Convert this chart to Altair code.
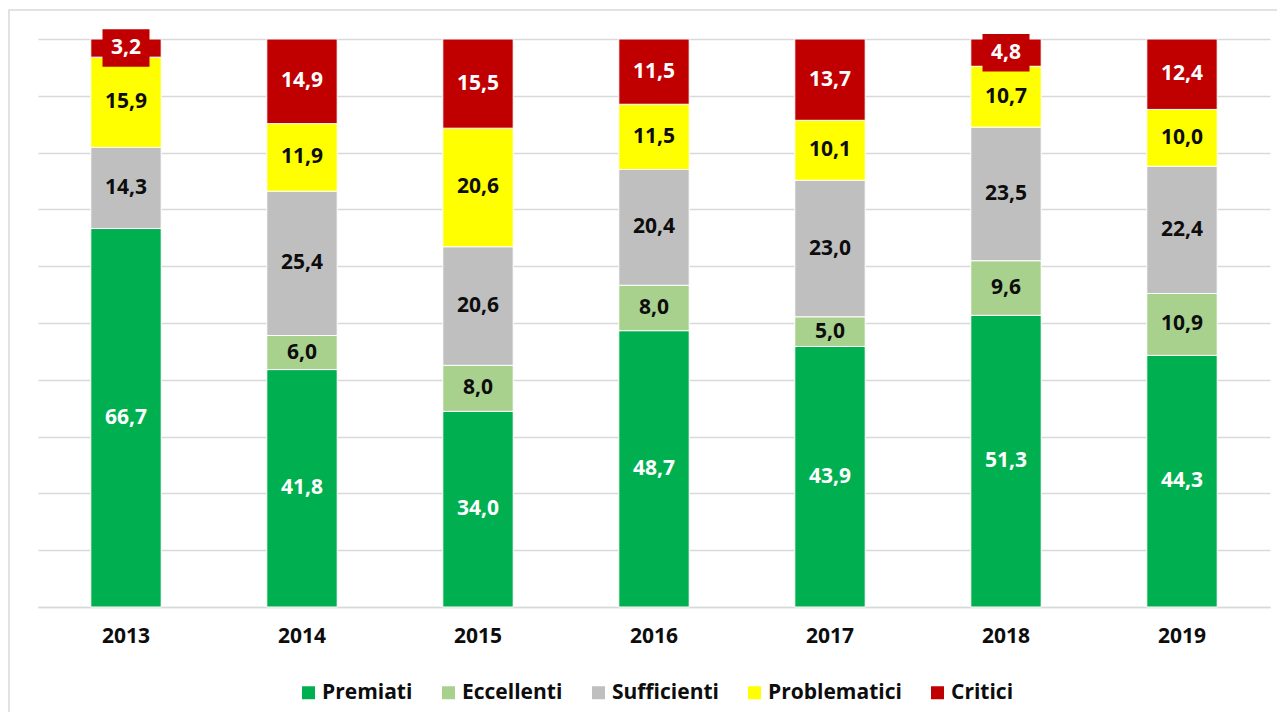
import altair as alt
import pandas as pd

years = ["2013", "2014", "2015", "2016", "2017", "2018", "2019"]
categories = ["Premiati", "Eccellenti", "Sufficienti", "Problematici", "Critici"]
premiati = [66.7, 41.8, 34.0, 48.7, 43.9, 51.3, 44.3]
eccellenti = [0.0, 6.0, 8.0, 8.0, 5.0, 9.6, 10.9]
sufficienti = [14.3, 25.4, 20.6, 20.4, 23.0, 23.5, 22.4]
problematici = [15.9, 11.9, 20.6, 11.5, 10.1, 10.7, 10.0]
critici = [3.2, 14.9, 15.5, 11.5, 13.7, 4.8, 12.4]
colors = ["#00B050", "#A9D18E", "#BFBFBF", "#FFFF00", "#C00000"]
grid_values = [i / 10 for i in range(11)]

series = [premiati, eccellenti, sufficienti, problematici, critici]
rows = []
for ci, (cat, vals) in enumerate(zip(categories, series)):
    for yr, v in zip(years, vals):
        rows.append({"anno": yr, "cat": cat, "ord": ci, "val": v,
                     "lab": f"{v:.1f}".replace(".", ",")})
df = pd.DataFrame(rows)

FONT = "Open Sans"
FS = 21
TXT = "#0d0d0d"
GRID = "#d9d9d9"

base = alt.Chart(df).transform_stack(
    stack="val", as_=["y0", "y1"], groupby=["anno"],
    sort=[alt.SortField("ord")], offset="normalize"
).transform_calculate(mid="(datum.y0 + datum.y1) / 2")

xscale = alt.Scale(paddingInner=0.6, paddingOuter=0.3)
xenc = alt.X("anno:N", sort=years, scale=xscale,
             axis=alt.Axis(title=None, labelAngle=0, labelFont=FONT, labelFontSize=FS,
                           labelFontWeight="bold", labelColor=TXT, labelPadding=18,
                           ticks=False, domainColor=GRID, domainWidth=1.5))
yscale = alt.Scale(domain=[0, 1], nice=False)

frame = alt.Chart(pd.DataFrame({"k": [0]})).mark_rect(
    fill="transparent", stroke=GRID, strokeWidth=1.5
).encode(x=alt.value(-29), x2=alt.value(1400), y=alt.value(-29), y2=alt.value(900))

bars = base.transform_filter("datum.val > 0").mark_bar(stroke="white", strokeWidth=1).encode(
    x=xenc,
    y=alt.Y("y0:Q", scale=yscale,
            axis=alt.Axis(title=None, labels=False, ticks=False, domain=False, grid=True,
                          values=grid_values, gridColor=GRID, gridWidth=1.5)),
    y2="y1:Q",
    color=alt.Color("cat:N", scale=alt.Scale(domain=categories, range=colors),
                    legend=alt.Legend(title=None, orient="none", direction="horizontal",
                                      legendX=260, legendY=643, symbolType="square",
                                      symbolSize=169, symbolStrokeWidth=0,
                                      labelFont=FONT, labelFontSize=FS, labelFontWeight="bold",
                                      labelColor=TXT, columnPadding=25, labelOffset=3)),
)

boxes = base.transform_filter(
    "datum.cat == 'Critici' && (datum.y1 - datum.y0) < 0.06"
).transform_calculate(b0="datum.mid - 0.033", b1="datum.mid + 0.033").mark_bar(
    width=47, color="#C00000"
).encode(x=alt.X("anno:N", sort=years), y=alt.Y("b0:Q"), y2="b1:Q")

labels = base.transform_filter("datum.val > 0").mark_text(
    font=FONT, fontSize=FS, fontWeight="bold", baseline="middle"
).encode(
    x=alt.X("anno:N", sort=years),
    y=alt.Y("mid:Q"),
    text="lab:N",
    color=alt.condition("datum.cat == 'Premiati' || datum.cat == 'Critici'",
                        alt.value("white"), alt.value(TXT)),
)

chart = alt.layer(frame, bars, boxes, labels).properties(
    width=1232, height=568,
    padding={"left": 30, "top": 31, "right": 7, "bottom": 105},
    autosize=alt.AutoSizeParams(type="none"),
).configure_view(stroke=None)

chart.save("out.html", embed_options={"renderer": "svg", "actions": False})
